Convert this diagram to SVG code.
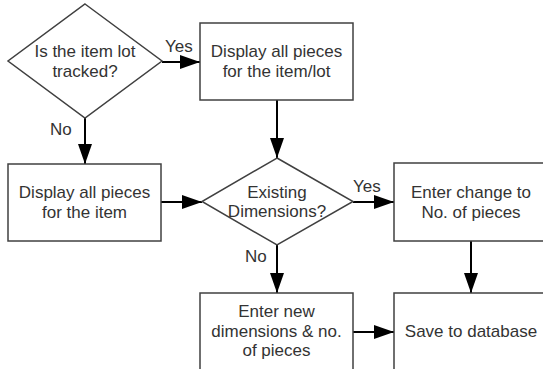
<svg xmlns="http://www.w3.org/2000/svg" width="543" height="369" viewBox="0 0 543 369">
<style>
.shape{fill:#fff;stroke:#404040;stroke-width:1.5}
.t{font-family:"Liberation Sans",Arial,sans-serif;font-size:17px;fill:#333;text-anchor:middle}
.lbl{font-family:"Liberation Sans",Arial,sans-serif;font-size:17px;fill:#333}
.c{fill:none;stroke:#000;stroke-width:2;marker-end:url(#arr)}
</style>
<defs>
<marker id="arr" markerUnits="userSpaceOnUse" markerWidth="20" markerHeight="14" refX="20" refY="7" orient="auto">
<path d="M0,0 L20,7 L0,14 Z" fill="#000"/>
</marker>
</defs>
<rect width="543" height="369" fill="#fff"/>
<g id="connectors">
<path class="c" d="M162,62 L200,62"/>
<path class="c" d="M85,118 L85,164"/>
<path class="c" d="M277,100 L277,158"/>
<path class="c" d="M161,202 L202,202"/>
<path class="c" d="M353,202 L394,202"/>
<path class="c" d="M277,245 L277,293"/>
<path class="c" d="M471,241 L471,293"/>
<path class="c" d="M353,332 L394,332"/>
<text class="lbl" x="165" y="52">Yes</text>
<text class="lbl" x="50" y="135">No</text>
<text class="lbl" x="353" y="192">Yes</text>
<text class="lbl" x="245" y="262">No</text>
</g>
<g id="lotTracked">
<polygon class="shape" points="85,4 162,61 85,118 8,61"/>
<text class="t" x="85" y="57">Is the item lot</text>
<text class="t" x="85" y="77">tracked?</text>
</g>
<g id="displayItemLot">
<rect class="shape" x="200" y="23" width="153" height="77"/>
<text class="t" x="276.5" y="57">Display all pieces</text>
<text class="t" x="276.5" y="77">for the item/lot</text>
</g>
<g id="displayItem">
<rect class="shape" x="8" y="164" width="153" height="77"/>
<text class="t" x="84.5" y="198">Display all pieces</text>
<text class="t" x="84.5" y="218">for the item</text>
</g>
<g id="existingDims">
<polygon class="shape" points="277,158 353,201.5 277,245 202,201.5"/>
<text class="t" x="277" y="197.5">Existing</text>
<text class="t" x="277" y="217">Dimensions?</text>
</g>
<g id="enterChange">
<rect class="shape" x="394" y="163" width="154" height="78"/>
<text class="t" x="471" y="197.5">Enter change to</text>
<text class="t" x="471" y="217.5">No. of pieces</text>
</g>
<g id="enterNew">
<rect class="shape" x="200" y="293" width="153" height="78"/>
<text class="t" x="276.5" y="317">Enter new</text>
<text class="t" x="276.5" y="336.5">dimensions &amp; no.</text>
<text class="t" x="276.5" y="356">of pieces</text>
</g>
<g id="saveDb">
<rect class="shape" x="394" y="293" width="154" height="78"/>
<text class="t" x="471" y="337">Save to database</text>
</g>
</svg>
